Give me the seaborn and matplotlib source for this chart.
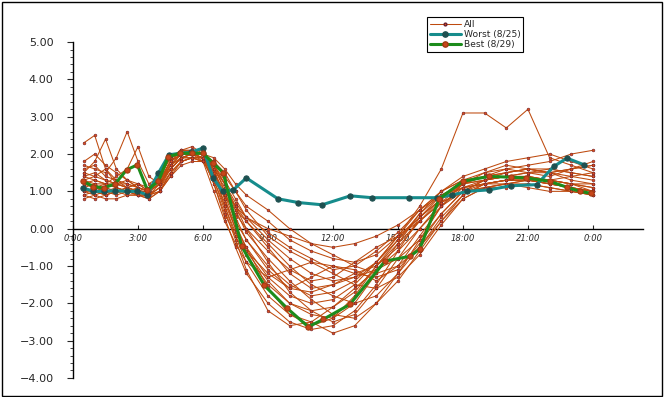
import numpy as np
import pandas as pd
import matplotlib
matplotlib.use("Agg")
import matplotlib.pyplot as plt
from matplotlib.lines import Line2D
from matplotlib.ticker import MultipleLocator
import seaborn as sns

sns.set_style("white")
plt.rcParams['font.family'] = ['DejaVu Sans']

# ---- data -------------------------------------------------------------
hours = [0.5, 1, 1.5, 2, 2.5, 3, 3.5, 4, 4.5, 5, 5.5, 6, 6.5, 7, 7.5, 8,
         9, 10, 11, 12, 13, 14, 15, 16, 17, 18, 19, 20, 21, 22, 23, 24]

s01 = [1.2,1.1,1.0,1.1,1.0,0.9,0.9,1.5,1.9,2.0,2.0,1.9,1.2,0.3,-0.5,-1.2,-2.0,-2.5,-2.7,-2.6,-2.2,-1.5,-0.6,0.3,0.9,1.2,1.3,1.4,1.4,1.3,1.2,1.0]
s02 = [1.5,1.8,2.4,1.6,1.3,1.1,1.0,1.3,1.8,2.1,2.2,2.0,1.6,0.8,0.0,-0.6,-1.4,-2.0,-2.3,-2.4,-2.0,-1.2,-0.4,0.4,1.0,1.3,1.5,1.6,1.5,1.4,1.6,1.8]
s03 = [2.3,2.5,1.6,1.2,1.1,1.0,0.9,1.2,1.7,1.9,1.9,1.8,1.4,0.9,0.2,-0.3,-1.0,-1.5,-1.8,-1.7,-1.4,-0.9,-0.2,0.5,1.0,1.3,1.4,1.5,1.6,1.5,1.4,1.3]
s04 = [1.0,0.9,1.0,1.0,0.9,0.9,0.8,1.0,1.5,1.8,1.9,1.9,1.7,1.3,0.8,0.3,-0.3,-0.8,-1.2,-1.4,-1.3,-0.9,-0.3,0.3,0.8,1.1,1.2,1.3,1.3,1.2,1.1,1.0]
s05 = [1.7,1.6,1.5,1.9,2.6,1.8,1.2,1.4,1.9,2.1,2.1,2.1,1.5,0.6,-0.2,-0.9,-1.8,-2.3,-2.5,-2.8,-2.6,-2.0,-1.2,-0.3,0.6,1.1,1.3,1.4,1.5,1.6,1.5,1.4]
s06 = [0.8,0.9,0.8,0.8,0.9,0.9,0.9,1.1,1.6,1.9,2.0,1.8,1.0,0.2,-0.4,-0.9,-1.3,-1.1,-0.9,-1.0,-1.2,-1.0,-0.5,0.2,0.7,1.0,1.1,1.2,1.2,1.1,1.0,0.9]
s07 = [1.3,1.2,1.2,1.4,1.6,2.2,1.4,1.2,1.6,1.9,2.0,2.0,1.8,1.4,1.0,0.6,0.2,-0.3,-0.6,-0.8,-0.9,-0.7,-0.2,0.3,0.8,1.2,1.5,1.7,1.6,1.5,1.6,1.7]
s08 = [1.1,1.0,1.1,1.0,1.0,1.0,0.9,1.1,1.7,2.0,2.1,2.0,1.3,0.5,-0.3,-1.1,-2.2,-2.6,-2.5,-2.1,-1.6,-1.1,-0.6,0.0,0.6,1.0,1.2,1.3,1.3,1.2,1.1,1.0]
s09 = [1.4,1.5,1.3,1.2,1.1,1.2,1.0,1.3,1.8,2.0,2.0,1.9,1.6,1.1,0.6,0.2,-0.4,-1.0,-1.5,-1.8,-2.0,-1.8,-1.2,-0.5,0.3,0.9,1.2,1.3,1.4,1.3,1.2,1.1]
s10 = [0.9,1.0,0.9,1.0,1.1,1.0,0.9,1.0,1.4,1.7,1.8,1.8,1.6,1.2,0.7,0.3,0.0,-0.2,-0.4,-0.5,-0.4,-0.2,0.1,0.5,0.9,1.2,1.3,1.4,1.4,1.3,1.2,1.1]
s11 = [1.2,1.3,1.2,1.1,1.0,1.0,1.0,1.3,1.8,2.0,2.0,1.9,1.4,0.7,0.0,-0.5,-1.3,-1.8,-2.0,-1.9,-1.5,-0.9,-0.2,0.6,1.6,3.1,3.1,2.7,3.2,1.9,1.7,1.5]
s12 = [1.0,1.1,1.2,1.1,1.0,0.9,0.9,1.0,1.5,1.8,1.9,1.9,1.8,1.5,1.0,0.5,-0.2,-0.6,-0.9,-1.2,-1.5,-1.6,-1.3,-0.7,0.1,0.8,1.1,1.2,1.3,1.2,1.1,1.0]
s13 = [1.6,1.7,1.4,1.3,1.2,1.1,1.0,1.4,1.9,2.1,2.1,2.0,1.7,1.0,0.3,-0.3,-1.1,-1.6,-1.3,-1.0,-1.1,-1.4,-1.0,-0.2,0.6,1.2,1.4,1.6,1.7,1.8,2.0,2.1]
s14 = [1.1,1.2,1.0,0.9,1.0,1.1,1.0,1.2,1.6,1.9,2.0,1.9,1.2,0.4,-0.2,-0.7,-1.5,-2.0,-2.2,-2.1,-1.7,-1.0,-0.3,0.4,0.9,1.1,1.2,1.2,1.1,1.0,1.0,0.9]
s15 = [1.3,1.4,1.6,1.3,1.1,1.0,1.1,1.4,1.9,2.1,2.0,1.9,1.5,0.9,0.5,0.2,-0.5,-1.2,-1.6,-1.5,-1.2,-1.3,-1.1,-0.4,0.4,1.0,1.3,1.5,1.6,1.5,1.3,1.2]
s16 = [0.9,0.8,0.9,1.0,1.0,0.9,0.8,1.0,1.4,1.8,1.9,1.9,1.7,1.2,0.5,-0.1,-0.8,-1.4,-1.9,-2.3,-2.4,-2.0,-1.4,-0.6,0.2,0.9,1.2,1.3,1.3,1.2,1.1,1.0]
s17 = [1.8,2.0,1.7,1.5,1.3,1.2,1.1,1.3,1.8,2.0,2.0,1.9,1.5,1.0,0.6,0.3,-0.1,-0.5,-0.8,-1.1,-1.0,-0.6,-0.1,0.5,1.0,1.4,1.6,1.8,1.9,2.0,1.8,1.6]
s18 = [1.2,1.1,1.0,1.0,1.1,1.2,1.0,1.2,1.7,2.0,2.1,2.0,1.6,0.8,0.1,-0.5,-1.6,-2.3,-2.6,-2.4,-1.8,-1.0,-0.4,0.2,0.8,1.1,1.2,1.3,1.3,1.3,1.2,1.2]
s19 = [1.0,1.1,1.1,1.2,1.3,1.1,1.0,1.2,1.6,1.9,2.0,2.0,1.9,1.6,1.2,0.9,0.5,0.0,-0.4,-0.7,-1.0,-1.2,-1.0,-0.5,0.2,0.8,1.1,1.2,1.3,1.3,1.4,1.5]
s20 = [1.4,1.3,1.2,1.2,1.2,1.1,1.0,1.3,1.7,1.9,1.9,1.8,1.3,0.6,-0.1,-0.6,-1.2,-1.6,-1.7,-1.5,-1.3,-1.1,-0.8,-0.3,0.4,1.0,1.3,1.4,1.5,1.5,1.6,1.7]
s21 = [1.0,1.0,0.9,1.0,1.0,1.0,0.9,1.1,1.5,1.8,1.9,1.8,1.4,0.9,0.4,0.0,-0.6,-1.1,-1.4,-1.3,-0.9,-0.5,-0.2,0.2,0.7,1.0,1.1,1.1,1.2,1.1,1.0,0.9]
s22 = [1.5,1.4,1.3,1.2,1.1,1.0,1.0,1.2,1.8,2.0,2.1,2.0,1.7,1.2,0.6,0.0,-0.9,-1.7,-2.2,-2.5,-2.3,-1.6,-0.8,0.0,0.7,1.2,1.4,1.5,1.6,1.6,1.5,1.4]

all_days = [s01, s02, s03, s04, s05, s06, s07, s08, s09, s10, s11,
            s12, s13, s14, s15, s16, s17, s18, s19, s20, s21, s22]

worst_hours = [0.47,0.94,1.45,1.94,2.48,2.94,3.43,3.94,4.43,4.94,5.45,6.0,6.47,6.9,7.4,8.0,
               9.46,10.4,11.5,12.8,13.8,15.5,16.8,17.5,18.2,19.2,20.2,21.4,22.2,22.8,23.6]
worst_vals = [1.09,1.0,1.0,1.02,1.0,1.0,0.91,1.49,1.98,2.02,2.05,2.16,1.36,1.0,1.04,1.36,
              0.8,0.7,0.64,0.88,0.83,0.83,0.83,0.9,1.0,1.04,1.15,1.18,1.67,1.89,1.71]

best_hours = [0.47,0.94,1.41,1.94,2.48,2.97,3.43,3.94,4.4,4.94,5.5,6.0,6.47,6.94,7.78,8.83,
              9.86,10.86,11.55,12.78,14.4,15.55,16.0,16.9,18.0,19.2,20.2,20.9,22.0,22.8,23.4,23.9]
best_vals = [1.27,1.13,1.09,1.2,1.58,1.71,1.04,1.27,1.93,2.02,2.02,2.02,1.76,1.49,-0.47,-1.52,
             -2.12,-2.63,-2.43,-2.03,-0.87,-0.74,-0.55,0.8,1.27,1.4,1.38,1.36,1.27,1.11,1.0,0.95]

tick_hours = [0, 3, 6, 9, 12, 15, 18, 21, 24]
tick_labels = ["0:00", "3:00", "6:00", "9:00", "12:00", "15:00", "18:00", "21:00", "0:00"]
series_names = ["All", "Worst (8/25)", "Best (8/29)"]

# ---- frames -------------------------------------------------------------
rows = []
for i, vals in enumerate(all_days):
    for h, v in zip(hours, vals):
        rows.append({"day": f"d{i}", "hour": h, "value": v})
df_all = pd.DataFrame(rows)
df_worst = pd.DataFrame({"hour": worst_hours, "value": worst_vals})
df_best = pd.DataFrame({"hour": best_hours, "value": best_vals})

BROWN = "#BE4A0E"
TEAL = "#168C8C"
GREEN = "#1C8C1C"

fig = plt.figure(figsize=(6.64, 3.97), dpi=100)
ax = fig.add_axes([0.110, 0.048, 0.858, 0.846])

sns.lineplot(data=df_all, x="hour", y="value", hue="day",
             palette={f"d{i}": BROWN for i in range(len(all_days))},
             estimator=None, lw=0.75, marker="o", markersize=2.0,
             markerfacecolor="#E0501A", markeredgecolor="#6A2030",
             markeredgewidth=0.4, legend=False, ax=ax, zorder=2)
sns.lineplot(data=df_worst, x="hour", y="value", color=TEAL, lw=2.2,
             marker="o", markersize=3.8, markerfacecolor="#1E5050",
             markeredgecolor="#1E5050", estimator=None, ax=ax, zorder=3)
sns.lineplot(data=df_best, x="hour", y="value", color=GREEN, lw=2.2,
             marker="o", markersize=3.8, markerfacecolor="#C8461A",
             markeredgecolor="#A03A10", estimator=None, ax=ax, zorder=4)

ax.set_xlim(0, 26.3)
ax.set_ylim(-4, 5)
ax.set_xlabel("")
ax.set_ylabel("")

for s in ["top", "right"]:
    ax.spines[s].set_visible(False)
ax.spines["left"].set_linewidth(1.0)
ax.spines["left"].set_color("black")
ax.spines["bottom"].set_position(("data", 0))
ax.spines["bottom"].set_linewidth(1.0)
ax.spines["bottom"].set_color("black")
ax.spines["bottom"].set_zorder(1)

ax.set_yticks(np.arange(-4, 5.01, 1))
ax.set_yticklabels([f"{v:.2f}".replace("-", "\u2212") for v in np.arange(-4, 5.01, 1)])
ax.yaxis.set_minor_locator(MultipleLocator(0.2))
ax.tick_params(axis="y", which="major", direction="out", length=4, width=0.8,
               labelsize=8, pad=10, left=True)
ax.tick_params(axis="y", which="minor", direction="out", length=2.5, width=0.6, left=True)

ax.set_xticks(tick_hours)
ax.set_xticklabels(tick_labels, fontstyle="italic", fontsize=6)
ax.tick_params(axis="x", which="major", direction="in", length=3, width=0.8,
               pad=4, bottom=True)

handles = [
    Line2D([0], [0], color=BROWN, lw=0.75, marker="o", markersize=2.0,
           markerfacecolor="#E0501A", markeredgecolor="#6A2030"),
    Line2D([0], [0], color=TEAL, lw=2.2, marker="o", markersize=3.8,
           markerfacecolor="#1E5050", markeredgecolor="#1E5050"),
    Line2D([0], [0], color=GREEN, lw=2.2, marker="o", markersize=3.8,
           markerfacecolor="#C8461A", markeredgecolor="#A03A10"),
]
leg = fig.legend(handles, series_names, loc="upper left",
                 bbox_to_anchor=(427 / 664, 1 - 17 / 397), fontsize=6.6,
                 frameon=True, fancybox=False, framealpha=1, edgecolor="black",
                 handlelength=3.4, handletextpad=0.3, labelspacing=0.12,
                 borderpad=0.3, borderaxespad=0)
leg.get_frame().set_linewidth(0.8)
leg._legend_box.align = "left"

fig.add_artist(plt.Rectangle((1.5 / 664, 1.5 / 397), 660 / 664, 393.5 / 397,
                             transform=fig.transFigure, fill=False,
                             lw=1.0, edgecolor="black"))

fig.savefig("out.png", dpi=100)
